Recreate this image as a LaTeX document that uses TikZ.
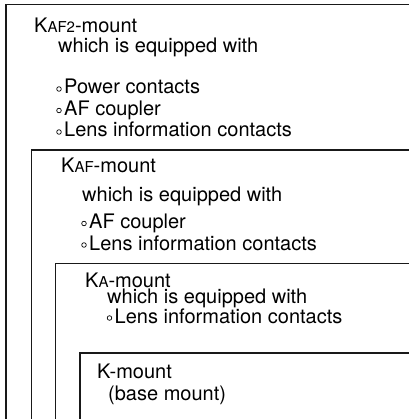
\documentclass[tikz,border=0pt]{standalone}
\usepackage{fontspec}
\setmainfont{TeX Gyre Heros}
\begin{document}
\begin{tikzpicture}[x=1pt,y=-1pt,
  txt/.style={anchor=base west,inner sep=0pt,font=\fontsize{20}{22}\selectfont},
  frame/.style={draw=black!90,line width=1.3pt},
  bul/.style={draw=black,line width=0.7pt}]
\useasboundingbox (0,0) rectangle (408,419);
\newcommand{\sm}[1]{{\fontsize{15}{16}\selectfont #1}}
% frames (open to the right and bottom)
\draw[frame] (420,4.5) -- (6,4.5) -- (6,430);
\draw[frame] (420,150) -- (31.7,150) -- (31.7,430);
\draw[frame] (420,263.5) -- (55.7,263.5) -- (55.7,430);
\draw[frame] (420,353) -- (80,353) -- (80,430);
% box 1
\node[txt] (t1) at (34,33) {K\sm{AF2}-mount};
\node[txt] (w1) at (58,53) {which is equipped with};
\node[txt] (a1) at (64,94) {Power contacts};
\node[txt] (b1) at (64,115.5) {AF coupler};
\node[txt] (c1) at (64,137) {Lens information contacts};
% box 2
\node[txt] (t2) at (61,173) {K\sm{AF}-mount};
\node[txt] (w2) at (82,202) {which is equipped with};
\node[txt] (b2) at (89,228.5) {AF coupler};
\node[txt] (c2) at (89,250) {Lens information contacts};
% box 3
\node[txt] (t3) at (85,287) {K\sm{A}-mount};
\node[txt] (w3) at (107,303) {which is equipped with};
\node[txt] (c3) at (114.5,323) {Lens information contacts};
% box 4
\node[txt] (t4) at (97,378) {K-mount};
\node[txt] (w4) at (108,400) {(base mount)};
% bullets
\foreach \n in {a1,b1,c1,b2,c2,c3}
  \draw[bul] (\n.base west) ++(-5,-5) circle[radius=2.3];
\end{tikzpicture}
\end{document}
